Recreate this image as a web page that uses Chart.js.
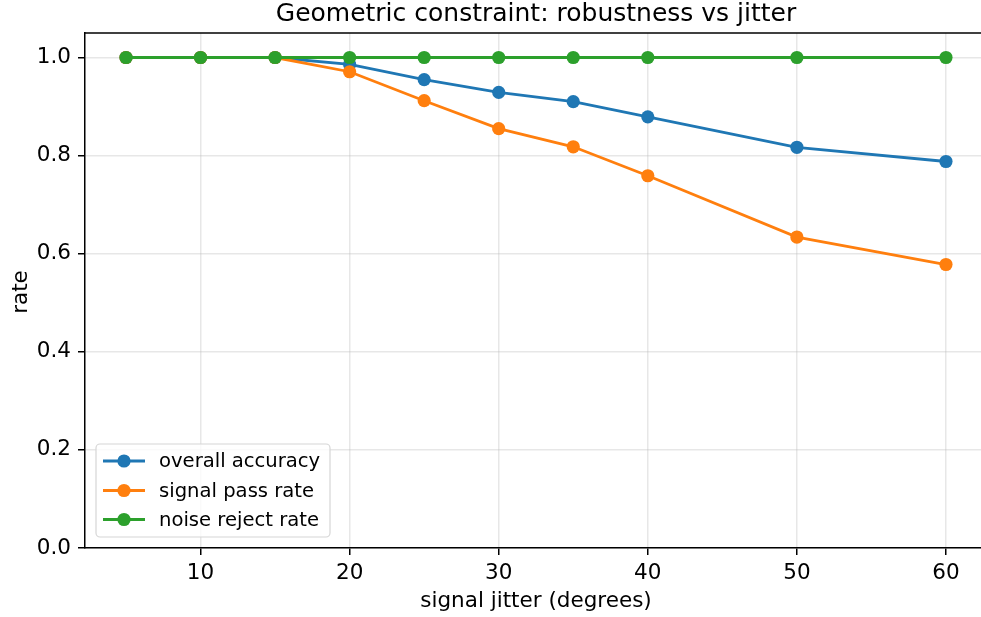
<!DOCTYPE html>
<html>
<head>
<meta charset="utf-8">
<script src="https://cdn.jsdelivr.net/npm/chart.js@4.4.1/dist/chart.umd.min.js"></script>
<style>
  html, body { margin: 0; padding: 0; background: #fff; overflow: hidden; }
  canvas { display: block; }
</style>
</head>
<body>
<canvas id="lineChart" width="981" height="617"></canvas>
<script>
// values
const jitter = [5, 10, 15, 20, 25, 30, 35, 40, 50, 60];
const overallAccuracy = [1.0, 1.0, 1.0, 0.986, 0.955, 0.929, 0.910, 0.879, 0.817, 0.788];
const signalPassRate = [1.0, 1.0, 1.0, 0.971, 0.912, 0.855, 0.818, 0.759, 0.634, 0.578];
const noiseRejectRate = [1.0, 1.0, 1.0, 1.0, 1.0, 1.0, 1.0, 1.0, 1.0, 1.0];
const seriesNames = ['overall accuracy', 'signal pass rate', 'noise reject rate'];
const xTicks = [10, 20, 30, 40, 50, 60];
const yTicks = [0.0, 0.2, 0.4, 0.6, 0.8, 1.0];

const titleText = 'Geometric constraint: robustness vs jitter';
const xLabel = 'signal jitter (degrees)';
const yLabel = 'rate';

const colors = ['#1f77b4', '#ff7f0e', '#2ca02c'];
const FONT = "'DejaVu Sans', sans-serif";

Chart.defaults.font.family = FONT;
Chart.defaults.font.size = 21.5;
Chart.defaults.color = '#000';

const toPoints = (ys) => ys.map((y, i) => ({ x: jitter[i], y: y }));

const makeSet = (label, ys, i) => ({
  label: label,
  data: toPoints(ys),
  borderColor: colors[i],
  backgroundColor: colors[i],
  borderWidth: 2.8,
  pointRadius: 6.6,
  pointHoverRadius: 6.6,
  pointBorderWidth: 0,
  tension: 0,
  order: 3 - i
});

// title, axis labels, top spine and the legend box inside the plot
const extras = {
  id: 'extras',
  afterDraw(chart) {
    const { ctx, chartArea } = chart;
    const cx = 536;
    ctx.save();

    ctx.strokeStyle = '#000';
    ctx.lineWidth = 1.5;
    ctx.beginPath();
    ctx.moveTo(chartArea.left, chartArea.top);
    ctx.lineTo(chartArea.right, chartArea.top);
    ctx.stroke();

    ctx.fillStyle = '#000';
    ctx.textAlign = 'center';
    ctx.textBaseline = 'alphabetic';
    ctx.font = '25px ' + FONT;
    ctx.fillText(titleText, cx, 21);

    ctx.font = '21.5px ' + FONT;
    ctx.fillText(xLabel, cx, 607);

    ctx.save();
    ctx.translate(27, 292);
    ctx.rotate(-Math.PI / 2);
    ctx.fillText(yLabel, 0, 0);
    ctx.restore();

    // legend
    const bx = 96, by = 444, bw = 234, bh = 93;
    ctx.beginPath();
    ctx.roundRect(bx, by, bw, bh, 4);
    ctx.fillStyle = 'rgba(255,255,255,0.8)';
    ctx.fill();
    ctx.strokeStyle = '#d6d6d6';
    ctx.lineWidth = 1.2;
    ctx.stroke();

    const rows = [461, 490.5, 519.5];
    ctx.textBaseline = 'middle';
    chart.data.datasets.forEach((ds, i) => {
      const y = rows[i];
      ctx.strokeStyle = ds.borderColor;
      ctx.lineWidth = 2.8;
      ctx.beginPath();
      ctx.moveTo(103, y);
      ctx.lineTo(145, y);
      ctx.stroke();
      ctx.fillStyle = ds.borderColor;
      ctx.beginPath();
      ctx.arc(124, y, 6.6, 0, Math.PI * 2);
      ctx.fill();
      ctx.fillStyle = '#000';
      ctx.textAlign = 'left';
      ctx.font = '19.6px ' + FONT;
      ctx.fillText(ds.label, 159, y + 1);
    });
    ctx.restore();
  }
};

const ctx = document.getElementById('lineChart');

new Chart(ctx, {
  type: 'line',
  data: {
    datasets: [
      makeSet(seriesNames[0], overallAccuracy, 0),
      makeSet(seriesNames[1], signalPassRate, 1),
      makeSet(seriesNames[2], noiseRejectRate, 2)
    ]
  },
  options: {
    responsive: false,
    animation: false,
    devicePixelRatio: 1,
    layout: { autoPadding: false, padding: { top: 33, right: 0, left: 0, bottom: 0 } },
    plugins: {
      legend: { display: false },
      title: { display: false },
      tooltip: { enabled: false }
    },
    scales: {
      x: {
        type: 'linear',
        min: 2.25,
        max: 62.35,
        afterBuildTicks: (s) => { s.ticks = xTicks.map(v => ({ value: v })); },
        afterFit: (s) => { s.height = 69; },
        grid: {
          color: 'rgba(176,176,176,0.3)',
          tickColor: '#000',
          tickLength: 7,
          lineWidth: 1.5
        },
        border: { color: '#000', width: 1.5 },
        ticks: { padding: 6, maxRotation: 0 }
      },
      y: {
        min: 0,
        max: 1.05,
        afterBuildTicks: (s) => { s.ticks = yTicks.map(v => ({ value: v })); },
        afterFit: (s) => { s.width = 85; },
        grid: {
          color: 'rgba(176,176,176,0.3)',
          tickColor: '#000',
          tickLength: 7,
          lineWidth: 1.5
        },
        border: { color: '#000', width: 1.5 },
        ticks: {
          padding: 7,
          callback: (v) => Number(v).toFixed(1)
        }
      }
    }
  },
  plugins: [extras]
});
</script>
</body>
</html>
